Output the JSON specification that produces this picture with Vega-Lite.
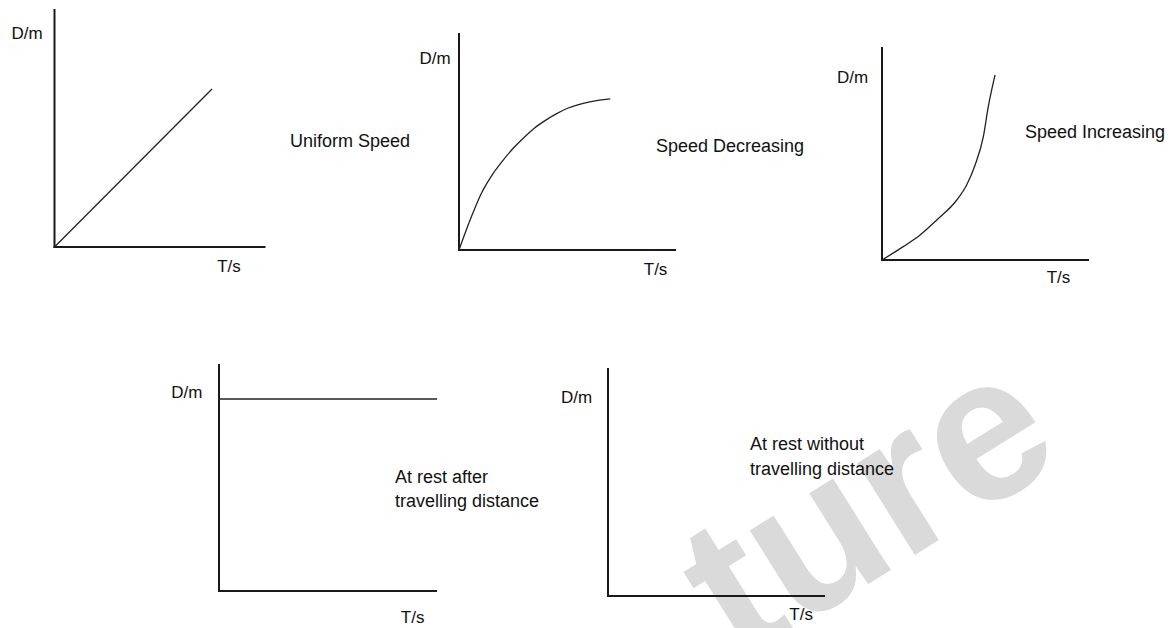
{
  "$schema": "https://vega.github.io/schema/vega-lite/v6.json",
  "background": "white",
  "padding": 0,
  "autosize": {"type": "pad"},
  "columns": 3,
  "spacing": 0,
  "bounds": "flush",
  "align": "all",
  "config": {
    "view": {"stroke": null},
    "axis": {"disable": true},
    "text": {"font": "Liberation Sans", "color": "#111111"}
  },
  "datasets": {
    "curves": [
      {"panel": "P1", "t": 0, "d": 0},
      {"panel": "P1", "t": 7.5, "d": 6.67},
      {"panel": "P2", "t": 0, "d": 0},
      {"panel": "P2", "t": 0.5, "d": 1.35},
      {"panel": "P2", "t": 1.0, "d": 2.55},
      {"panel": "P2", "t": 1.5, "d": 3.42},
      {"panel": "P2", "t": 2.0, "d": 4.1},
      {"panel": "P2", "t": 2.5, "d": 4.7},
      {"panel": "P2", "t": 3.0, "d": 5.2},
      {"panel": "P2", "t": 3.5, "d": 5.65},
      {"panel": "P2", "t": 4.0, "d": 6.0},
      {"panel": "P2", "t": 4.5, "d": 6.3},
      {"panel": "P2", "t": 5.0, "d": 6.55},
      {"panel": "P2", "t": 5.5, "d": 6.72},
      {"panel": "P2", "t": 6.0, "d": 6.85},
      {"panel": "P2", "t": 6.5, "d": 6.94},
      {"panel": "P2", "t": 7.0, "d": 7.0},
      {"panel": "P3", "t": 0, "d": 0},
      {"panel": "P3", "t": 1.03, "d": 0.63},
      {"panel": "P3", "t": 1.85, "d": 1.18},
      {"panel": "P3", "t": 2.66, "d": 1.89},
      {"panel": "P3", "t": 3.63, "d": 2.83},
      {"panel": "P3", "t": 4.11, "d": 3.54},
      {"panel": "P3", "t": 4.52, "d": 4.48},
      {"panel": "P3", "t": 4.92, "d": 5.82},
      {"panel": "P3", "t": 5.16, "d": 7.23},
      {"panel": "P3", "t": 5.49, "d": 8.73},
      {"panel": "P4", "t": 0, "d": 8.5},
      {"panel": "P4", "t": 10.05, "d": 8.5}
    ],
    "labels": [
      {"panel": "P1", "kind": "axis", "label": "D/m", "t": -1.31, "d": 8.99},
      {"panel": "P1", "kind": "axis", "label": "T/s", "t": 8.31, "d": -0.84},
      {"panel": "P1", "kind": "note", "label": "Uniform Speed", "t": 11.21, "d": 4.44},
      {"panel": "P2", "kind": "axis", "label": "D/m", "t": -1.11, "d": 8.84},
      {"panel": "P2", "kind": "axis", "label": "T/s", "t": 9.1, "d": -0.93},
      {"panel": "P2", "kind": "note", "label": "Speed Decreasing", "t": 9.12, "d": 4.75},
      {"panel": "P3", "kind": "axis", "label": "D/m", "t": -1.43, "d": 8.59},
      {"panel": "P3", "kind": "axis", "label": "T/s", "t": 8.57, "d": -0.85},
      {"panel": "P3", "kind": "note", "label": "Speed Increasing", "t": 6.94, "d": 6.01},
      {"panel": "P4", "kind": "axis", "label": "D/m", "t": -1.48, "d": 8.76},
      {"panel": "P4", "kind": "axis", "label": "T/s", "t": 8.92, "d": -1.2},
      {"panel": "P4", "kind": "note", "label": "At rest after", "t": 8.11, "d": 5.0},
      {"panel": "P4", "kind": "note", "label": "travelling distance", "t": 8.11, "d": 3.94},
      {"panel": "P5", "kind": "axis", "label": "D/m", "t": -1.46, "d": 8.72},
      {"panel": "P5", "kind": "axis", "label": "T/s", "t": 8.94, "d": -0.84},
      {"panel": "P5", "kind": "note", "label": "At rest without", "t": 6.57, "d": 6.65},
      {"panel": "P5", "kind": "note", "label": "travelling distance", "t": 6.57, "d": 5.55},
      {"panel": "P5", "kind": "watermark", "label": "ture", "t": 12.13, "d": 3.79}
    ]
  },
  "concat": [
    {
      "width": 390, "height": 314,
      "layer": [
        {"data": {"values": [{}]}, "mark": {"type": "rule", "color": "#1a1a1a", "strokeWidth": 2, "strokeCap": "square"},
         "encoding": {"x": {"datum": 0, "type": "quantitative", "scale": {"domain": [-2.595, 15.976], "nice": false, "zero": false}},
                      "y": {"datum": 0, "type": "quantitative", "scale": {"domain": [-2.827, 10.422], "nice": false, "zero": false}},
                      "y2": {"datum": 10}}},
        {"data": {"values": [{}]}, "mark": {"type": "rule", "color": "#1a1a1a", "strokeWidth": 2, "strokeCap": "square"},
         "encoding": {"x": {"datum": 0, "type": "quantitative"}, "x2": {"datum": 10}, "y": {"datum": 0, "type": "quantitative"}}},
        {"data": {"name": "curves"}, "transform": [{"filter": "datum.panel == 'P1'"}],
         "mark": {"type": "line", "color": "#222222", "strokeWidth": 1.3, "interpolate": "monotone"},
         "encoding": {"x": {"field": "t", "type": "quantitative"}, "y": {"field": "d", "type": "quantitative"}}},
        {"data": {"name": "labels"}, "transform": [{"filter": "datum.panel == 'P1' && datum.kind == 'axis'"}],
         "mark": {"type": "text", "align": "center", "baseline": "middle", "fontSize": 17},
         "encoding": {"x": {"field": "t", "type": "quantitative"}, "y": {"field": "d", "type": "quantitative"}, "text": {"field": "label"}}},
        {"data": {"name": "labels"}, "transform": [{"filter": "datum.panel == 'P1' && datum.kind == 'note'"}],
         "mark": {"type": "text", "align": "left", "baseline": "middle", "fontSize": 18},
         "encoding": {"x": {"field": "t", "type": "quantitative"}, "y": {"field": "d", "type": "quantitative"}, "text": {"field": "label"}}}
      ]
    },
    {
      "width": 390, "height": 314,
      "layer": [
        {"data": {"values": [{}]}, "mark": {"type": "rule", "color": "#1a1a1a", "strokeWidth": 2, "strokeCap": "square"},
         "encoding": {"x": {"datum": 0, "type": "quantitative", "scale": {"domain": [-3.194, 14.861], "nice": false, "zero": false}},
                      "y": {"datum": 0, "type": "quantitative", "scale": {"domain": [-2.963, 11.574], "nice": false, "zero": false}},
                      "y2": {"datum": 10}}},
        {"data": {"values": [{}]}, "mark": {"type": "rule", "color": "#1a1a1a", "strokeWidth": 2, "strokeCap": "square"},
         "encoding": {"x": {"datum": 0, "type": "quantitative"}, "x2": {"datum": 10}, "y": {"datum": 0, "type": "quantitative"}}},
        {"data": {"name": "curves"}, "transform": [{"filter": "datum.panel == 'P2'"}],
         "mark": {"type": "line", "color": "#222222", "strokeWidth": 1.3, "interpolate": "monotone"},
         "encoding": {"x": {"field": "t", "type": "quantitative"}, "y": {"field": "d", "type": "quantitative"}}},
        {"data": {"name": "labels"}, "transform": [{"filter": "datum.panel == 'P2' && datum.kind == 'axis'"}],
         "mark": {"type": "text", "align": "center", "baseline": "middle", "fontSize": 17},
         "encoding": {"x": {"field": "t", "type": "quantitative"}, "y": {"field": "d", "type": "quantitative"}, "text": {"field": "label"}}},
        {"data": {"name": "labels"}, "transform": [{"filter": "datum.panel == 'P2' && datum.kind == 'note'"}],
         "mark": {"type": "text", "align": "left", "baseline": "middle", "fontSize": 18},
         "encoding": {"x": {"field": "t", "type": "quantitative"}, "y": {"field": "d", "type": "quantitative"}, "text": {"field": "label"}}}
      ]
    },
    {
      "width": 390, "height": 314,
      "layer": [
        {"data": {"values": [{}]}, "mark": {"type": "rule", "color": "#1a1a1a", "strokeWidth": 2, "strokeCap": "square"},
         "encoding": {"x": {"datum": 0, "type": "quantitative", "scale": {"domain": [-4.951, 13.981], "nice": false, "zero": false}},
                      "y": {"datum": 0, "type": "quantitative", "scale": {"domain": [-2.547, 12.264], "nice": false, "zero": false}},
                      "y2": {"datum": 10}}},
        {"data": {"values": [{}]}, "mark": {"type": "rule", "color": "#1a1a1a", "strokeWidth": 2, "strokeCap": "square"},
         "encoding": {"x": {"datum": 0, "type": "quantitative"}, "x2": {"datum": 10}, "y": {"datum": 0, "type": "quantitative"}}},
        {"data": {"name": "curves"}, "transform": [{"filter": "datum.panel == 'P3'"}],
         "mark": {"type": "line", "color": "#222222", "strokeWidth": 1.3, "interpolate": "monotone"},
         "encoding": {"x": {"field": "t", "type": "quantitative"}, "y": {"field": "d", "type": "quantitative"}}},
        {"data": {"name": "labels"}, "transform": [{"filter": "datum.panel == 'P3' && datum.kind == 'axis'"}],
         "mark": {"type": "text", "align": "center", "baseline": "middle", "fontSize": 17},
         "encoding": {"x": {"field": "t", "type": "quantitative"}, "y": {"field": "d", "type": "quantitative"}, "text": {"field": "label"}}},
        {"data": {"name": "labels"}, "transform": [{"filter": "datum.panel == 'P3' && datum.kind == 'note'"}],
         "mark": {"type": "text", "align": "left", "baseline": "middle", "fontSize": 18},
         "encoding": {"x": {"field": "t", "type": "quantitative"}, "y": {"field": "d", "type": "quantitative"}, "text": {"field": "label"}}}
      ]
    },
    {
      "width": 390, "height": 314,
      "layer": [
        {"data": {"values": [{}]}, "mark": {"type": "rule", "color": "#1a1a1a", "strokeWidth": 2, "strokeCap": "square"},
         "encoding": {"x": {"datum": 0, "type": "quantitative", "scale": {"domain": [-10.092, 7.88], "nice": false, "zero": false}},
                      "y": {"datum": 0, "type": "quantitative", "scale": {"domain": [-1.637, 12.257], "nice": false, "zero": false}},
                      "y2": {"datum": 10}}},
        {"data": {"values": [{}]}, "mark": {"type": "rule", "color": "#1a1a1a", "strokeWidth": 2, "strokeCap": "square"},
         "encoding": {"x": {"datum": 0, "type": "quantitative"}, "x2": {"datum": 10}, "y": {"datum": 0, "type": "quantitative"}}},
        {"data": {"name": "curves"}, "transform": [{"filter": "datum.panel == 'P4'"}],
         "mark": {"type": "line", "color": "#222222", "strokeWidth": 1.5},
         "encoding": {"x": {"field": "t", "type": "quantitative"}, "y": {"field": "d", "type": "quantitative"}}},
        {"data": {"name": "labels"}, "transform": [{"filter": "datum.panel == 'P4' && datum.kind == 'axis'"}],
         "mark": {"type": "text", "align": "center", "baseline": "middle", "fontSize": 17},
         "encoding": {"x": {"field": "t", "type": "quantitative"}, "y": {"field": "d", "type": "quantitative"}, "text": {"field": "label"}}},
        {"data": {"name": "labels"}, "transform": [{"filter": "datum.panel == 'P4' && datum.kind == 'note'"}],
         "mark": {"type": "text", "align": "left", "baseline": "middle", "fontSize": 18},
         "encoding": {"x": {"field": "t", "type": "quantitative"}, "y": {"field": "d", "type": "quantitative"}, "text": {"field": "label"}}}
      ]
    },
    {
      "width": 390, "height": 314,
      "layer": [
        {"data": {"name": "labels"}, "transform": [{"filter": "datum.panel == 'P5' && datum.kind == 'watermark'"}],
         "mark": {"type": "text", "align": "center", "baseline": "middle", "fontSize": 205, "fontWeight": "bold", "angle": -32, "color": "#dadada"},
         "encoding": {"x": {"field": "t", "type": "quantitative", "scale": {"domain": [-10.093, 7.963], "nice": false, "zero": false}},
                      "y": {"field": "d", "type": "quantitative", "scale": {"domain": [-1.41, 12.423], "nice": false, "zero": false}},
                      "text": {"field": "label"}}},
        {"data": {"values": [{}]}, "mark": {"type": "rule", "color": "#1a1a1a", "strokeWidth": 2, "strokeCap": "square"},
         "encoding": {"x": {"datum": 0, "type": "quantitative"}, "y": {"datum": 0, "type": "quantitative"}, "y2": {"datum": 10}}},
        {"data": {"values": [{}]}, "mark": {"type": "rule", "color": "#1a1a1a", "strokeWidth": 2, "strokeCap": "square"},
         "encoding": {"x": {"datum": 0, "type": "quantitative"}, "x2": {"datum": 10}, "y": {"datum": 0, "type": "quantitative"}}},
        {"data": {"name": "labels"}, "transform": [{"filter": "datum.panel == 'P5' && datum.kind == 'axis'"}],
         "mark": {"type": "text", "align": "center", "baseline": "middle", "fontSize": 17},
         "encoding": {"x": {"field": "t", "type": "quantitative"}, "y": {"field": "d", "type": "quantitative"}, "text": {"field": "label"}}},
        {"data": {"name": "labels"}, "transform": [{"filter": "datum.panel == 'P5' && datum.kind == 'note'"}],
         "mark": {"type": "text", "align": "left", "baseline": "middle", "fontSize": 18},
         "encoding": {"x": {"field": "t", "type": "quantitative"}, "y": {"field": "d", "type": "quantitative"}, "text": {"field": "label"}}}
      ]
    }
  ]
}
